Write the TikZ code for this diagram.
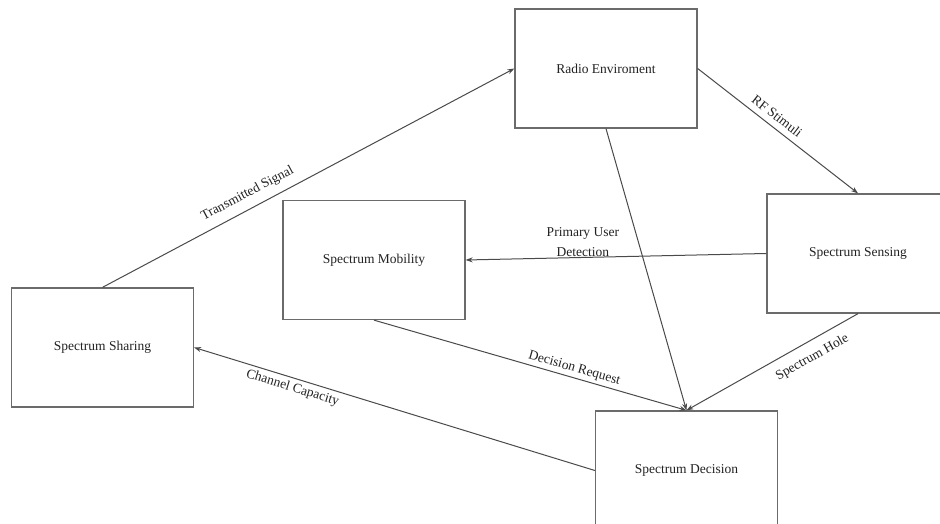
\documentclass[tikz,border=0pt]{standalone}
\usepackage{fontspec}
\setmainfont{Liberation Serif}
\usetikzlibrary{arrows.meta}
\definecolor{boxgray}{HTML}{6B6B6B}
\definecolor{linegray}{HTML}{4A4A4A}
\definecolor{txt}{HTML}{222222}
\begin{document}
\begin{tikzpicture}[x=1pt,y=1pt,
  box/.style={draw=boxgray, line width=1.3pt, minimum width=182pt, minimum height=119pt,
    inner sep=0pt, fill=white, text=txt, font=\fontsize{13.5}{16}\selectfont},
  conn/.style={draw=linegray, line width=1pt, -{Stealth[length=7pt,width=5pt]}},
  lbl/.style={text=txt, font=\fontsize{13.5}{20}\selectfont}]
\useasboundingbox (0,0) rectangle (940,524);
\clip (0,0) rectangle (940,524);
\fill[white] (0,0) rectangle (940,524);

\node[box] (radio)    at (606,455.5)  {Radio Enviroment};
\node[box] (sensing)  at (858,270.5)  {Spectrum Sensing};
\node[box] (mobility) at (374,264)    {Spectrum Mobility};
\node[box] (sharing)  at (102.5,176.5){Spectrum Sharing};
\node[box] (decision) at (686.5,53.5) {Spectrum Decision};

\draw[conn] (sharing.north) -- node[lbl, sloped, pos=0.369, above, inner sep=8pt] {Transmitted Signal} (radio.west);
\draw[conn] (radio.east) -- node[lbl, sloped, pos=0.453, above, inner sep=6pt] {RF Stimuli} (sensing.north);
\draw[conn] (sensing.west) -- node[lbl, pos=0.61, above, inner sep=0pt, align=center] {Primary User\\Detection} (mobility.east);
\draw[conn] (radio.south) -- (decision.north);
\draw[conn] (mobility.south) -- node[lbl, sloped, pos=0.633, above, inner sep=2.5pt] {Decision Request} (decision.north);
\draw[conn] (sensing.south) -- node[lbl, sloped, pos=0.312, below, inner sep=9.5pt] {Spectrum Hole} (decision.north);
\draw[conn] (decision.west) -- node[lbl, sloped, pos=0.747, below, inner sep=3.5pt] {Channel Capacity} (sharing.east);
\end{tikzpicture}
\end{document}
